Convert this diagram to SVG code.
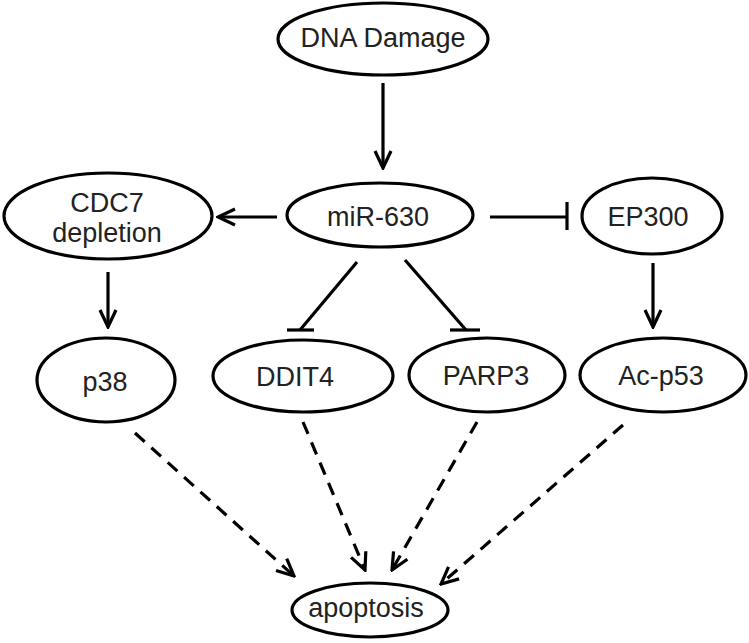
<svg xmlns="http://www.w3.org/2000/svg" width="749" height="643" viewBox="0 0 749 643">
<defs>
<style>
.node ellipse{fill:#fff;stroke:#000;stroke-width:3.2}
.node text{font-family:"Liberation Sans",Arial,sans-serif;font-size:27px;fill:#222;text-anchor:middle}
.c{stroke:#000;stroke-width:3.2;fill:none}
.d{stroke-dasharray:13 9}
</style>
<marker id="ah" viewBox="0 0 22 22" refX="20" refY="11" markerWidth="22" markerHeight="22" markerUnits="userSpaceOnUse" orient="auto">
<path d="M3,3 L20,11 L3,19" fill="none" stroke="#000" stroke-width="3.2"/>
</marker>
</defs>
<rect width="749" height="643" fill="#fff"/>
<g id="connectors">
<line class="c" x1="383" y1="83" x2="383" y2="168" marker-end="url(#ah)"/>
<line class="c" x1="277" y1="217" x2="218" y2="217" marker-end="url(#ah)"/>
<line class="c" x1="490" y1="217" x2="567" y2="217"/>
<line class="c" x1="567" y1="202" x2="567" y2="230"/>
<line class="c" x1="108" y1="272" x2="108" y2="327" marker-end="url(#ah)"/>
<line class="c" x1="653" y1="263" x2="653" y2="327" marker-end="url(#ah)"/>
<line class="c" x1="357" y1="262" x2="300" y2="330"/>
<line class="c" x1="287" y1="330" x2="314" y2="330"/>
<line class="c" x1="405" y1="260" x2="466" y2="330"/>
<line class="c" x1="450" y1="330" x2="480" y2="330"/>
<line class="c d" x1="135" y1="433" x2="294" y2="576" marker-end="url(#ah)"/>
<line class="c d" x1="303" y1="422" x2="365" y2="570" marker-end="url(#ah)"/>
<line class="c d" x1="477" y1="422" x2="392" y2="570" marker-end="url(#ah)"/>
<line class="c d" x1="623" y1="425" x2="441" y2="584" marker-end="url(#ah)"/>
</g>
<g id="dna-damage" class="node"><ellipse cx="383" cy="39" rx="105" ry="36"/><text x="383" y="47">DNA Damage</text></g>
<g id="mir-630" class="node"><ellipse cx="380" cy="215" rx="93" ry="32"/><text x="378" y="226">miR-630</text></g>
<g id="cdc7" class="node"><ellipse cx="108" cy="216" rx="104" ry="43"/><text x="107" y="212">CDC7</text><text x="107" y="242">depletion</text></g>
<g id="ep300" class="node"><ellipse cx="652" cy="216" rx="70" ry="38"/><text x="648" y="226">EP300</text></g>
<g id="p38" class="node"><ellipse cx="106" cy="380" rx="69" ry="42"/><text x="105" y="391">p38</text></g>
<g id="ddit4" class="node"><ellipse cx="303" cy="376" rx="90" ry="36"/><text x="295" y="386">DDIT4</text></g>
<g id="parp3" class="node"><ellipse cx="487" cy="375" rx="78" ry="37"/><text x="486" y="385">PARP3</text></g>
<g id="ac-p53" class="node"><ellipse cx="663" cy="375" rx="83" ry="37"/><text x="661" y="385">Ac-p53</text></g>
<g id="apoptosis" class="node"><ellipse cx="370" cy="610" rx="78" ry="27"/><text x="366" y="617">apoptosis</text></g>
</svg>
